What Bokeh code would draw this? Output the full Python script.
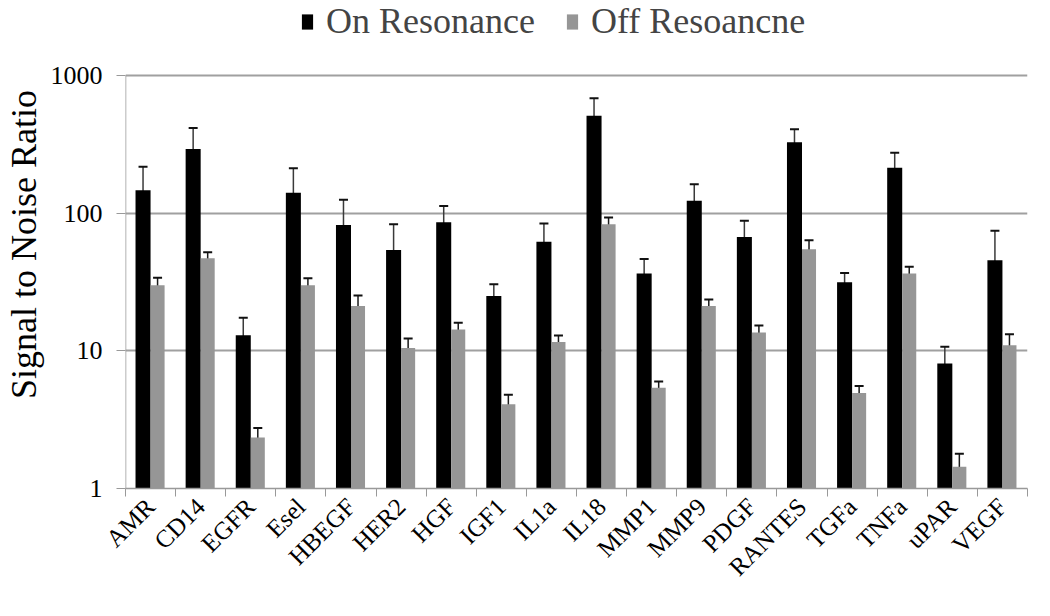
import math
from bokeh.plotting import figure
from bokeh.models import (ColumnDataSource, FixedTicker, Whisker, TeeHead, Legend, LegendItem,
                          Range1d)
from bokeh.embed import file_html
from bokeh.resources import INLINE

categories = ["AMR", "CD14", "EGFR", "Esel", "HBEGF", "HER2", "HGF", "IGF1", "IL1a", "IL18",
              "MMP1", "MMP9", "PDGF", "RANTES", "TGFa", "TNFa", "uPAR", "VEGF"]
on_res = [147, 292, 13.0, 141, 82, 54, 86, 25, 62, 510, 36.5, 123, 67, 327, 31.5, 214, 8.1, 45.5]
on_err = [70, 123, 4.4, 71, 43, 29, 27, 5.5, 22, 173, 10, 39, 21, 80, 5.3, 61, 2.6, 29]
off_res = [30, 47, 2.35, 30, 21.2, 10.5, 14.3, 4.1, 11.6, 83, 5.4, 21.2, 13.6, 54.7, 4.95, 36.5, 1.44, 11]
off_err = [4, 5, 0.4, 3.7, 4, 1.8, 1.7, 0.7, 1.3, 10, 0.6, 2.4, 1.7, 9, 0.6, 4.3, 0.35, 2.2]
y_ticks = [1, 10, 100, 1000]
legend_labels = ["On Resonance", "Off Resoancne"]
y_title = "Signal to Noise Ratio"

FONT = "'Liberation Serif', 'Times New Roman', serif"
n = len(categories)
centers = [i + 0.5 for i in range(n)]
bounds = [float(i) for i in range(n + 1)]

# frame extends above the top tick so the legend sits in the frame's upper margin
y_top = y_ticks[-1] * 10 ** 0.545

src_on = ColumnDataSource(dict(
    x=[c - 0.15 for c in centers], top=on_res,
    upper=[v + e for v, e in zip(on_res, on_err)],
    lower=[max(v - e, 1.0001) for v, e in zip(on_res, on_err)]))
src_off = ColumnDataSource(dict(
    x=[c + 0.14 for c in centers], top=off_res,
    upper=[v + e for v, e in zip(off_res, off_err)],
    lower=[v - e for v, e in zip(off_res, off_err)]))

p = figure(width=1034, height=600, output_backend="svg", toolbar_location=None,
           y_axis_type="log", x_range=Range1d(0, n), y_range=Range1d(y_ticks[0], y_top),
           min_border_left=117, min_border_right=7, min_border_top=0, min_border_bottom=112)
p.outline_line_color = None
p.background_fill_color = "white"

p.xgrid.grid_line_color = None
p.ygrid.grid_line_color = "#a0a0a0"
p.ygrid.grid_line_width = 2

r_on = p.vbar(x="x", top="top", bottom=1, width=0.30, source=src_on,
              fill_color="#000000", line_color=None)
r_off = p.vbar(x="x", top="top", bottom=1, width=0.28, source=src_off,
               fill_color="#969696", line_color=None)

for src, col in ((src_on, "#3a3a3a"), (src_off, "#1a1a1a")):
    w = Whisker(source=src, base="x", upper="upper", lower="lower",
                line_color=col, line_width=1.5,
                upper_head=TeeHead(size=9, line_color="#111111", line_width=2),
                lower_head=TeeHead(size=9, line_color="#111111", line_width=2))
    p.add_layout(w)

# left axis line only spans the tick range (1 .. 1000)
p.segment(x0=[0], y0=[y_ticks[0]], x1=[0], y1=[y_ticks[-1]], line_color="#999999", line_width=1.5)

# x axis
p.xaxis.ticker = FixedTicker(ticks=centers, minor_ticks=bounds)
p.xaxis.major_label_overrides = {c: lab for c, lab in zip(centers, categories)}
p.xaxis.major_tick_out = 0
p.xaxis.major_tick_in = 0
p.xaxis.minor_tick_out = 8
p.xaxis.minor_tick_in = 0
p.xaxis.minor_tick_line_color = "#999999"
p.xaxis.axis_line_color = "#999999"
p.xaxis.axis_line_width = 1.5
p.xaxis.major_label_orientation = math.pi / 4
p.xaxis.major_label_text_font = FONT
p.xaxis.major_label_text_font_size = "25px"
p.xaxis.major_label_text_color = "#000000"
p.xaxis.major_label_standoff = 6

# y axis
p.yaxis.ticker = FixedTicker(ticks=y_ticks)
p.yaxis.major_label_overrides = {t: str(t) for t in y_ticks}
p.yaxis.major_tick_out = 9
p.yaxis.major_tick_in = 0
p.yaxis.minor_tick_line_color = None
p.yaxis.major_tick_line_color = "#999999"
p.yaxis.axis_line_color = None
p.yaxis.major_label_text_font = FONT
p.yaxis.major_label_text_font_size = "26px"
p.yaxis.major_label_text_color = "#000000"
p.yaxis.major_label_standoff = 14
p.yaxis.axis_label = y_title
p.yaxis.axis_label_text_font = FONT
p.yaxis.axis_label_text_font_size = "36px"
p.yaxis.axis_label_text_font_style = "normal"
p.yaxis.axis_label_text_color = "#000000"
p.yaxis.axis_label_standoff = 4

legend = Legend(items=[LegendItem(label=legend_labels[0], renderers=[r_on]),
                       LegendItem(label=legend_labels[1], renderers=[r_off])],
                orientation="horizontal", location=(175, 446),
                label_text_font=FONT, label_text_font_size="36px",
                glyph_width=14, glyph_height=19, spacing=30, label_standoff=12,
                border_line_color=None, background_fill_alpha=0,
                padding=0, margin=0)
p.add_layout(legend, "center")

open("out.html", "w").write(file_html(p, INLINE))
